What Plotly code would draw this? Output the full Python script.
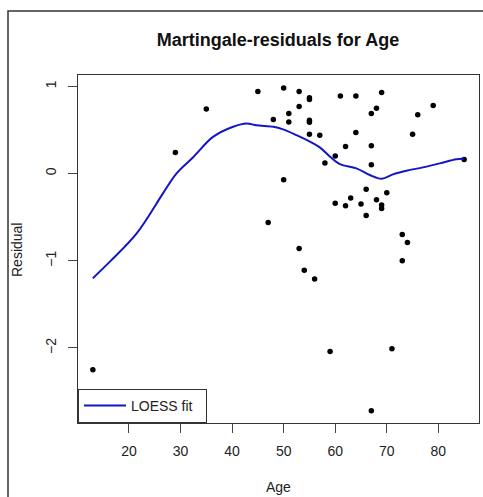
import plotly.graph_objects as go

# Data
age = [13, 29, 35, 45, 50, 53, 55, 55, 61, 64, 69, 79, 76, 68, 67, 53, 51, 51, 48,
       55, 55, 55, 57, 64, 75, 67, 62, 60, 58, 67, 85, 50, 66, 70, 63, 60, 62, 65,
       68, 69, 69, 66, 47, 73, 74, 53, 73, 54, 56, 59, 71, 67]
residual = [-2.25, 0.24, 0.74, 0.94, 0.98, 0.94, 0.87, 0.85, 0.89, 0.89, 0.93, 0.78,
            0.675, 0.75, 0.69, 0.77, 0.69, 0.59, 0.62, 0.61, 0.587, 0.45, 0.44, 0.47,
            0.45, 0.32, 0.31, 0.20, 0.12, 0.10, 0.16, -0.07, -0.18, -0.22, -0.28,
            -0.34, -0.37, -0.35, -0.30, -0.36, -0.40, -0.48, -0.56, -0.70, -0.79,
            -0.86, -1.00, -1.11, -1.21, -2.04, -2.01, -2.72]

loess_age = [13, 16.3, 21.5, 26.6, 29.2, 32.5, 36.3, 40.2, 42.8, 44.7, 48.0, 49.9,
             52.5, 55.1, 57.0, 59.0, 60.9, 64.1, 66.7, 69.0, 71.2, 73.8, 77.0, 80.3,
             83.5, 85.0]
loess_fit = [-1.20, -1.01, -0.686, -0.227, 0.0, 0.19, 0.42, 0.537, 0.575, 0.553,
             0.537, 0.507, 0.44, 0.365, 0.30, 0.193, 0.109, 0.06, -0.017, -0.06,
             -0.009, 0.032, 0.071, 0.117, 0.163, 0.174]

x_ticks = [20, 30, 40, 50, 60, 70, 80]
y_ticks = [-2, -1, 0, 1]

FONT = "Liberation Sans, Arial, sans-serif"

fig = go.Figure()
fig.add_trace(go.Scatter(x=age, y=residual, mode="markers",
                         marker=dict(color="black", size=5.5),
                         showlegend=False, hoverinfo="skip"))
fig.add_trace(go.Scatter(x=loess_age, y=loess_fit, mode="lines",
                         line=dict(color="#1515c8", width=2, shape="spline"),
                         name="LOESS fit\u00a0\u00a0"))

axis_common = dict(showgrid=False, zeroline=False, showline=True, mirror=True,
                   linecolor="#333", linewidth=1, ticks="outside", ticklen=9,
                   tickcolor="#444", tickwidth=1,
                   tickfont=dict(family=FONT, size=14, color="#222"))

fig.update_layout(
    width=483, height=497,
    margin=dict(l=78, r=4, t=75, b=74),
    paper_bgcolor="white", plot_bgcolor="white",
    title=dict(text="<b>Martingale-residuals for Age</b>",
               font=dict(family=FONT, size=18, color="#111"),
               x=278 / 483, xanchor="center", y=1 - 40 / 497, yanchor="middle"),
    xaxis=dict(range=[10.12, 87.88], tickvals=x_ticks,
               ticklabelstandoff=6, **axis_common),
    yaxis=dict(range=[-2.86, 1.13], tickvals=y_ticks, tickangle=-90,
               ticklabelstandoff=6, **axis_common),
    legend=dict(x=0, y=0, xanchor="left", yanchor="bottom", itemwidth=42,
                bgcolor="white", bordercolor="#333", borderwidth=1,
                font=dict(family=FONT, size=14, color="#222")),
    annotations=[
        dict(text="Age", xref="paper", yref="paper", x=(278 - 78) / 401,
             y=(423 - 487) / 348, showarrow=False, xanchor="center",
             yanchor="middle", font=dict(family=FONT, size=14, color="#222")),
        dict(text="Residual", xref="paper", yref="paper", x=(17 - 78) / 401,
             y=(423 - 250) / 348, showarrow=False, textangle=-90,
             xanchor="center", yanchor="middle",
             font=dict(family=FONT, size=14, color="#222")),
    ],
    shapes=[dict(type="rect", xref="paper", yref="paper",
                 x0=(8 - 78) / 401, x1=1.05, y0=-0.3, y1=(423 - 11) / 348,
                 line=dict(color="#333", width=1.5), layer="below")],
)

fig.write_html("out.html")
